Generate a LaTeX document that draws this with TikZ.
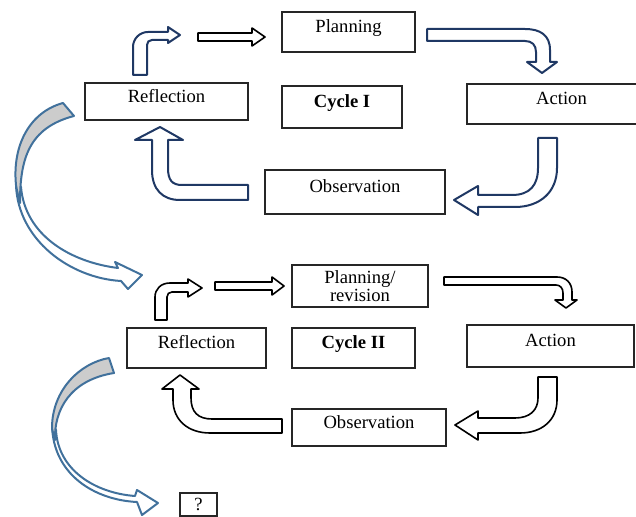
\documentclass[tikz,border=0pt]{standalone}
\usepackage{fontspec}
\setmainfont{Liberation Serif}
\definecolor{navy}{HTML}{1F3864}
\definecolor{steel}{HTML}{41719C}
\tikzset{
  box/.style={draw=black!85, line width=0.7pt, inner sep=1pt,
    font=\fontsize{9.3}{11}\selectfont, text height=6pt, text depth=5pt},
  navyarrow/.style={draw=navy, line width=1pt, fill=white, line join=round},
  blackarrow/.style={draw=black, line width=0.8pt, fill=white, line join=round},
  bigarrow/.style={draw=steel, line width=1pt, fill=white, line join=round},
}
\begin{document}
\begin{tikzpicture}[x=0.5pt,y=-0.5pt]
  \useasboundingbox (0,0) rectangle (636,517);
  % cycle I
  \node[box, minimum width=66.5pt, minimum height=20pt] (plan1) at (348.5,32) {Planning};
  \node[box, minimum width=81.5pt, minimum height=18.5pt] (refl1) at (166.5,101.5) {Reflection};
  \node[box, minimum width=60pt, minimum height=21pt] (cyc1) at (342,107) {\textbf{Cycle I}};
  \node[box, minimum width=94.5pt, minimum height=20pt] (act1) at (561.5,104) {Action};
  \node[box, minimum width=90pt, minimum height=22pt] (obs1) at (355,192) {Observation};
  % cycle II
  \node[box, minimum width=68pt, minimum height=21pt, align=center, text height=, text depth=,
    font=\fontsize{9.3}{7}\selectfont] (plan2) at (360,286) {Planning/\\revision};
  \node[box, minimum width=69.5pt, minimum height=20pt] (refl2) at (196.5,348) {Reflection};
  \node[box, minimum width=61.5pt, minimum height=20pt] (cyc2) at (353.5,348) {\textbf{Cycle II}};
  \node[box, minimum width=83.5pt, minimum height=21pt] (act2) at (550.5,346) {Action};
  \node[box, minimum width=77pt, minimum height=18.5pt] (obs2) at (369,427.5) {Observation};
  \node[box, minimum width=18.5pt, minimum height=11.5pt, text height=, text depth=] (next) at (198.5,504.5) {?};
  % arrows of cycle I
  \draw[navyarrow] (133,75) -- (133,47) .. controls (133,38.7) and (139.7,32) .. (148,32)
    -- (168,32) -- (168,27) -- (180,35) -- (168,43) -- (168,40) -- (152,40)
    .. controls (149,40) and (147,42) .. (147,45) -- (147,75) -- cycle;
  \draw[blackarrow] (198,33) -- (252,33) -- (252,28) -- (265,37) -- (252,46) -- (252,41) -- (198,41) -- cycle;
  \draw[navyarrow] (427,29) -- (525,29) .. controls (540,29) and (550,35) .. (550,50)
    -- (550,62) -- (557,62) -- (542,73) -- (527,62) -- (536,62) -- (536,52)
    .. controls (536,45) and (532,41) .. (525,41) -- (427,41) -- cycle;
  \draw[navyarrow] (538,138) -- (557,138) -- (557,168) .. controls (557,192) and (540,207) .. (515,207)
    -- (478,207) -- (478,215) -- (454,200) -- (478,186) -- (478,195) -- (512,195)
    .. controls (530,195) and (538,185) .. (538,168) -- cycle;
  \draw[navyarrow] (248,185) -- (248,200) -- (180,200) .. controls (163,200) and (152,190) .. (152,170)
    -- (152,140) -- (135,140) -- (160,127) -- (183,140) -- (168,140) -- (168,168)
    .. controls (168,180) and (172,185) .. (182,185) -- cycle;
  % arrows of cycle II
  \draw[blackarrow] (155,320) -- (155,297) .. controls (155,289) and (161,283) .. (170,283)
    -- (188,283) -- (188,279) -- (202,288) -- (188,297) -- (188,292) -- (172,292)
    .. controls (169,292) and (167,294) .. (167,297) -- (167,320) -- cycle;
  \draw[blackarrow] (215,282) -- (272,282) -- (272,277) -- (284,286) -- (272,295) -- (272,290) -- (215,290) -- cycle;
  \draw[blackarrow] (444,277) -- (557,277) .. controls (566,277) and (572,283) .. (572,292)
    -- (572,300) -- (577,300) -- (566,308) -- (555,300) -- (563,300) -- (563,293)
    .. controls (563,288) and (560,285) .. (556,285) -- (444,285) -- cycle;
  \draw[blackarrow] (538,377) -- (557,377) -- (557,400) .. controls (557,420) and (542,433) .. (520,433)
    -- (478,433) -- (478,440) -- (455,425) -- (478,411) -- (478,418) -- (515,418)
    .. controls (530,418) and (538,410) .. (538,398) -- cycle;
  \draw[blackarrow] (282,419) -- (282,433) -- (210,433) .. controls (188,433) and (173,420) .. (173,400)
    -- (173,389) -- (162,389) -- (180,375) -- (199,389) -- (191,389) -- (191,398)
    .. controls (191,412) and (198,419) .. (212,419) -- cycle;
  % big curved arrows between the cycles
  \draw[bigarrow] (16,185) .. controls (18,240) and (70,278) .. (121,281) -- (128,289) -- (142,275)
    -- (115,262) -- (118,268) .. controls (70,262) and (25,235) .. (21,187) -- cycle;
  \draw[bigarrow, fill=black!20] (63,103) .. controls (30,112) and (12,145) .. (16,185)
    .. controls (17,192) and (19,198) .. (20,203) .. controls (20,160) and (28,128) .. (74,116) -- cycle;
  \draw[bigarrow] (52,425) .. controls (53,475) and (95,500) .. (137,502) -- (142,515) -- (158,503)
    -- (137,490) -- (135,496) .. controls (95,493) and (58,470) .. (56,430) -- cycle;
  \draw[bigarrow, fill=black!20] (109,358) .. controls (80,363) and (52,390) .. (52,428)
    .. controls (53,433) and (54,437) .. (55,440) .. controls (54,410) and (70,380) .. (114,373) -- cycle;
\end{tikzpicture}
\end{document}
